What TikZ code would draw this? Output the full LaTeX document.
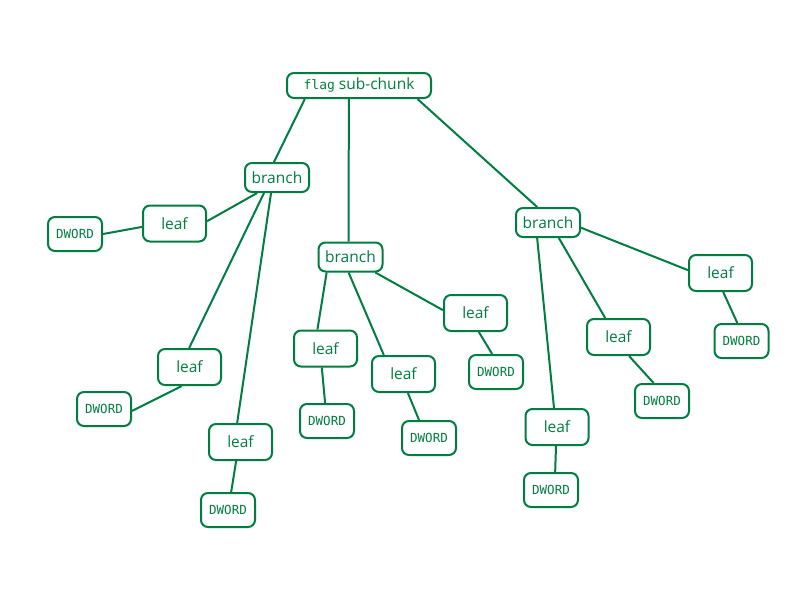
\documentclass[tikz,border=0pt]{standalone}
\usepackage{fontspec}
\setmainfont{Open Sans}
\setmonofont{DejaVu Sans Mono}
\definecolor{treegreen}{RGB}{0,125,64}

\begin{document}
\begin{tikzpicture}[
    x=1pt, y=-1pt,
    box/.style={rectangle, draw=treegreen, text=treegreen, line width=2pt, rounded corners=7pt, inner sep=0pt, font=\fontsize{15.5}{18}\selectfont},
    chunkbox/.style={box, minimum width=144pt, minimum height=25pt},
    branchbox/.style={box, minimum width=64pt, minimum height=29pt},
    leafbox/.style={box, minimum width=63pt, minimum height=36pt},
    dwordbox/.style={box, minimum width=54pt, minimum height=34pt, font=\fontsize{12.5}{15}\ttfamily},
    link/.style={draw=treegreen, line width=2pt}
]
\useasboundingbox (0,0) rectangle (800,600);

\node[chunkbox] (root) at (359,85.5) {{\fontsize{13}{15}\ttfamily flag} sub-chunk};

\node[branchbox] (branch1) at (277,177.5) {branch};
\node[branchbox] (branch2) at (350.5,257) {branch};
\node[branchbox] (branch3) at (548,222.5) {branch};

\node[leafbox] (leaf1) at (174.5,223.5) {leaf};
\node[leafbox] (leaf2) at (189.5,367) {leaf};
\node[leafbox] (leaf3) at (240.5,442) {leaf};
\node[leafbox] (leaf4) at (325.5,348.5) {leaf};
\node[leafbox] (leaf5) at (403.5,374) {leaf};
\node[leafbox] (leaf6) at (475.5,313) {leaf};
\node[leafbox] (leaf7) at (557,427) {leaf};
\node[leafbox] (leaf8) at (618.5,337) {leaf};
\node[leafbox] (leaf9) at (720.5,273) {leaf};

\node[dwordbox] (dword1) at (75,234) {DWORD};
\node[dwordbox] (dword2) at (104,409) {DWORD};
\node[dwordbox] (dword3) at (228,510) {DWORD};
\node[dwordbox] (dword4) at (327,421) {DWORD};
\node[dwordbox] (dword5) at (429,438) {DWORD};
\node[dwordbox] (dword6) at (496,372) {DWORD};
\node[dwordbox] (dword7) at (551,490) {DWORD};
\node[dwordbox] (dword8) at (662,401) {DWORD};
\node[dwordbox] (dword9) at (741.5,341) {DWORD};

% sub-chunk to branches
\draw[link] (root.194) -- (branch1.101);
\draw[link] (root.233) -- (branch2.97);
\draw[link] (root.-13) -- (branch3.125);

% first branch
\draw[link] (branch1.218) -- (leaf1.4);
\draw[link] (branch1.230) -- (leaf2.91);
\draw[link] (branch1.249) -- (leaf3.100);
\draw[link] (leaf1.186) -- (dword1.east);
\draw[link] (leaf2.248) -- (dword2.-4);
\draw[link] (leaf3.257) -- (dword3.80);

% second branch
\draw[link] (branch2.213) -- (leaf4.113);
\draw[link] (branch2.263) -- (leaf5.136);
\draw[link] (branch2.-32) -- (leaf6.175);
\draw[link] (leaf4.259) -- (dword4.96);
\draw[link] (leaf5.-77) -- (dword5.119);
\draw[link] (leaf6.-80) -- (dword6.102);

% third branch
\draw[link] (branch3.235) -- (leaf7.99);
\draw[link] (branch3.-55) -- (leaf8.125);
\draw[link] (branch3.-9.5) -- (leaf9.175);
\draw[link] (leaf7.267) -- (dword7.77);
\draw[link] (leaf8.-61) -- (dword8.115);
\draw[link] (leaf9.-82) -- (dword9.103);

\end{tikzpicture}
\end{document}
